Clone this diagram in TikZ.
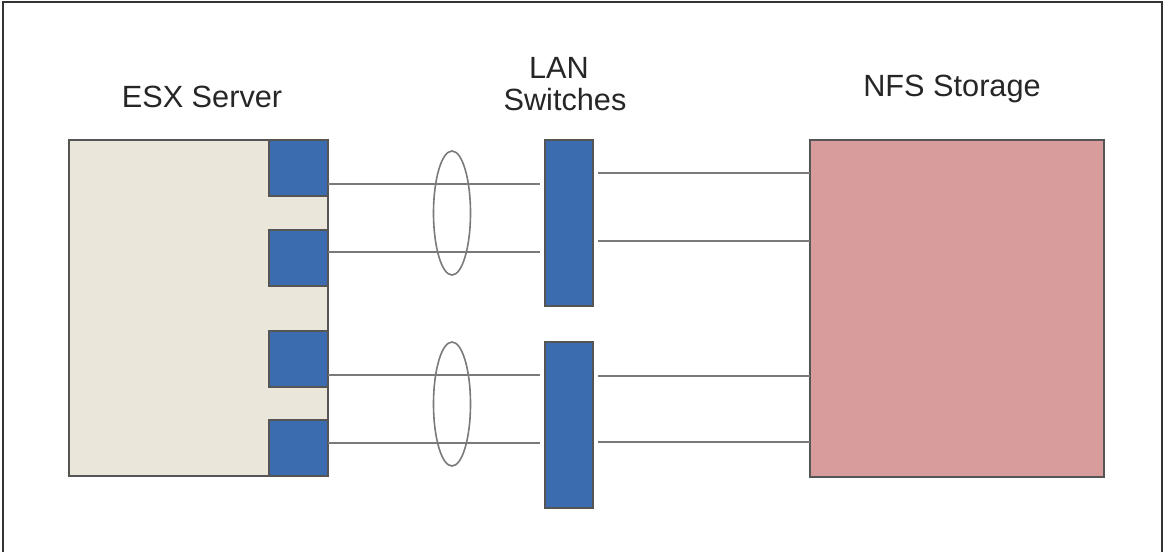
\documentclass[tikz,border=0pt]{standalone}
\usepackage{fontspec}
\setmainfont{Liberation Sans}
\usetikzlibrary{shapes.geometric}
\definecolor{esxfill}{HTML}{EAE6DA}
\definecolor{portblue}{HTML}{3C6CB0}
\definecolor{nfsfill}{HTML}{D89C9C}
\definecolor{edgegray}{HTML}{555555}
\definecolor{wiregray}{HTML}{7A7A7A}
\tikzset{
  box/.style={draw=edgegray, line width=1.6pt, inner sep=0pt, outer sep=0pt, anchor=north west},
  port/.style={box, fill=portblue, minimum width=59pt, minimum height=56pt},
  switchbox/.style={box, fill=portblue, minimum width=48pt, minimum height=166pt},
  wire/.style={draw=wiregray, line width=2pt},
  lag/.style={ellipse, draw=wiregray, line width=1.6pt, minimum width=37pt, minimum height=124pt, inner sep=0pt},
  lbl/.style={anchor=base, inner sep=0pt, font=\fontsize{30.7}{36}\selectfont, text=black!85}
}
\begin{document}
\begin{tikzpicture}[x=1pt,y=-1pt]
\useasboundingbox (0,0) rectangle (1168,552);
% frame
\draw[line width=1.6pt, draw=black!80] (3,552) -- (3,2) -- (1162,2) -- (1162,552);
% labels
\node[lbl] (tesx) at (202,107) {ESX Server};
\node[lbl] (tlan) at (559,78) {LAN};
\node[lbl] (tsw) at (565,110) {Switches};
\node[lbl] (tnfs) at (952,96) {NFS Storage};
% ESX server
\node[box, fill=esxfill, minimum width=259pt, minimum height=336pt] (esx) at (69,140) {};
\node[port] (p1) at (269,140) {};
\node[port] (p2) at (269,230) {};
\node[port] (p3) at (269,331) {};
\node[port] (p4) at (269,420) {};
% switches
\node[switchbox] (s1) at (545,140) {};
\node[switchbox] (s2) at (545,342) {};
% NFS
\node[box, fill=nfsfill, minimum width=294pt, minimum height=337pt] (nfs) at (810,140) {};
% wires ESX -> switches
\draw[wire] (p1.east |- 0,184) -- ([xshift=-5pt]s1.west |- 0,184);
\draw[wire] (p2.east |- 0,252) -- ([xshift=-5pt]s1.west |- 0,252);
\draw[wire] (p3.east |- 0,375) -- ([xshift=-5pt]s2.west |- 0,375);
\draw[wire] (p4.east |- 0,443) -- ([xshift=-5pt]s2.west |- 0,443);
% wires switches -> NFS
\draw[wire] ([xshift=5pt]s1.east |- 0,173) -- (nfs.west |- 0,173);
\draw[wire] ([xshift=5pt]s1.east |- 0,241) -- (nfs.west |- 0,241);
\draw[wire] ([xshift=5pt]s2.east |- 0,376) -- (nfs.west |- 0,376);
\draw[wire] ([xshift=5pt]s2.east |- 0,442) -- (nfs.west |- 0,442);
% link aggregation ellipses
\node[lag] (e1) at (452,213) {};
\node[lag] (e2) at (452,404) {};
\end{tikzpicture}
\end{document}
